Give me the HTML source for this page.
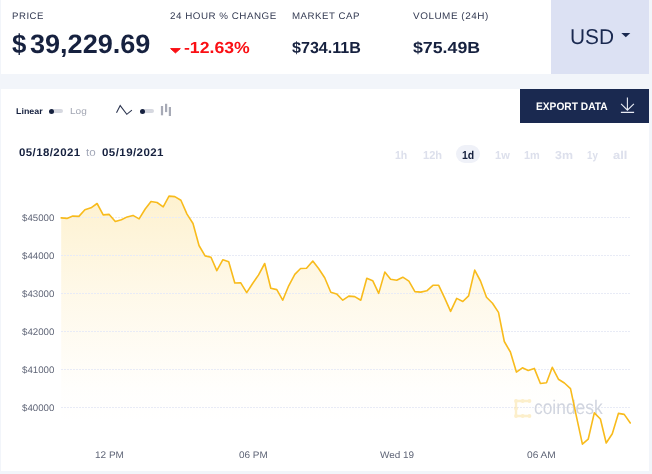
<!DOCTYPE html>
<html><head><meta charset="utf-8"><title>Bitcoin Price</title>
<style>
html,body{margin:0;padding:0;}
body{width:652px;height:474px;background:#f2f5fa;position:relative;overflow:hidden;font-family:"Liberation Sans",sans-serif;color:#16213f;}
.t{position:absolute;white-space:nowrap;line-height:1;transform-origin:0 0;}
.b{position:absolute;}
</style></head><body>
<div class="b" style="left:1px;top:0;width:648.4px;height:73.6px;background:#fff;"></div>
<div class="b" style="left:1px;top:88.5px;width:648.4px;height:382.4px;background:#fff;"></div>
<div class="b" style="left:551.2px;top:0;width:97.8px;height:73.6px;background:#dce1f3;"></div>
<div class="b" style="left:520.1px;top:89.1px;width:128.8px;height:33.5px;background:#1a2950;"></div>
<div class="b" style="left:51px;top:109.4px;width:12px;height:3.6px;border-radius:2px;background:#d6d8e0;"></div>
<div class="b" style="left:49px;top:108.7px;width:5.2px;height:5.2px;border-radius:50%;background:#16213f;"></div>
<div class="b" style="left:141.5px;top:109.4px;width:12.2px;height:3.6px;border-radius:2px;background:#d6d8e0;"></div>
<div class="b" style="left:139.8px;top:108.7px;width:5.2px;height:5.2px;border-radius:50%;background:#16213f;"></div>
<div class="b" style="left:456.2px;top:145.4px;width:24px;height:17.5px;border-radius:9px;background:#eff1f8;"></div>
<svg class="b" style="left:0;top:0;" width="652" height="474" viewBox="0 0 652 474">
<defs><linearGradient id="g" x1="0" y1="192" x2="0" y2="425" gradientUnits="userSpaceOnUse"><stop offset="0" stop-color="#f9bf1f" stop-opacity=".215"/><stop offset=".47" stop-color="#f9bf1f" stop-opacity=".09"/><stop offset=".85" stop-color="#f9bf1f" stop-opacity=".012"/><stop offset="1" stop-color="#f9bf1f" stop-opacity="0"/></linearGradient></defs>
<path d="M170.6 48.6 L180.3 48.6 L175.45 52.9 Z" fill="#fa0f14" stroke="#fa0f14" stroke-width="1" stroke-linejoin="round"/>
<path d="M621.3 33 L630.3 33 L625.8 37.3 Z" fill="#1a2950"/>
<path d="M627.4 97.6 V110.2 M621.1 103.9 L627.4 110.2 L633.9 103.9 M620.9 112.4 H634.1" fill="none" stroke="#e9ecf5" stroke-width="1.1"/>
<path d="M116.5 112.8 L120.2 105.6 L126.8 114.3 L131.9 110.1" fill="none" stroke="#2d3651" stroke-width="1.1"/>
<g fill="#a7aab6"><rect x="160.9" y="106" width="2.2" height="9.3"/><rect x="165" y="103.8" width="2.2" height="8.3"/><rect x="168.8" y="107" width="2.2" height="9"/></g>
<path d="M61.2 217.9 L67.0 218.4 L72.8 216.1 L78.9 216.4 L84.9 209.8 L91.0 207.8 L97.1 203.5 L103.2 214.9 L109.2 214.4 L115.3 221.5 L121.4 219.7 L127.2 216.9 L133.0 215.4 L139.1 218.9 L145.2 209.0 L151.0 201.5 L157.1 202.5 L163.2 206.8 L169.0 196.1 L174.8 196.6 L180.9 200.2 L187.0 214.1 L193.0 223.5 L199.0 245.5 L205.1 255.9 L211.0 257.2 L216.8 270.6 L222.9 259.7 L228.7 261.7 L234.8 283.0 L240.6 282.7 L246.7 292.6 L252.8 283.2 L258.6 274.9 L264.7 263.5 L270.8 288.3 L276.8 289.6 L282.7 300.2 L288.7 285.8 L294.8 274.4 L300.6 268.5 L306.5 268.3 L312.8 261.0 L318.6 268.5 L324.7 277.7 L330.8 292.3 L336.6 293.9 L342.8 300.2 L348.8 296.1 L354.7 296.6 L360.8 300.2 L366.8 278.2 L372.7 280.7 L378.7 293.4 L384.8 272.1 L390.6 279.2 L396.7 280.2 L402.8 277.2 L408.9 281.2 L414.9 291.6 L420.8 292.1 L426.8 290.8 L432.9 285.3 L438.7 285.3 L444.6 297.9 L450.6 311.3 L456.7 298.4 L462.8 301.5 L468.6 295.9 L474.7 270.1 L480.5 281.0 L486.5 297.2 L492.5 303.2 L498.5 312.4 L504.3 341.5 L510.4 352.0 L516.4 372.1 L522.4 367.8 L528.2 370.4 L534.3 368.4 L540.4 383.5 L546.5 382.8 L552.3 367.3 L558.4 379.2 L564.4 383.0 L570.5 388.6 L576.3 415.9 L582.4 444.1 L588.2 439.2 L594.3 412.9 L600.4 419.0 L606.2 443.0 L612.3 433.7 L618.4 413.4 L624.2 414.4 L630.3 423.0 L630.3 446 L61.2 446 Z" fill="url(#g)"/>
<g stroke="#e8ebf6" stroke-width="1" stroke-dasharray="2 1"><line x1="61" x2="630.5" y1="217.5" y2="217.5"/><line x1="61" x2="630.5" y1="255.5" y2="255.5"/><line x1="61" x2="630.5" y1="293.5" y2="293.5"/><line x1="61" x2="630.5" y1="331.5" y2="331.5"/><line x1="61" x2="630.5" y1="369.5" y2="369.5"/><line x1="61" x2="630.5" y1="407.5" y2="407.5"/></g>
<g opacity=".55">
<path d="M529.5 401 H516 V416 H529.5" fill="none" stroke="#fbe3a3" stroke-width="2.4" stroke-linecap="round"/>
<g fill="#fbe3a3"><circle cx="516" cy="401" r="1.9"/><circle cx="522.7" cy="401" r="1.9"/><circle cx="529.5" cy="401" r="1.9"/><circle cx="516" cy="408.5" r="1.9"/><circle cx="516" cy="416" r="1.9"/><circle cx="522.7" cy="416" r="1.9"/><circle cx="529.5" cy="416" r="1.9"/></g>
</g>
</svg>
<div id="tx" style="position:absolute;left:0;top:0;width:652px;height:474px;will-change:transform;">
<div class="t" id="l1" style="left:11.55px;top:10.70px;font-size:9.5px;font-weight:normal;color:#333a52;letter-spacing:0.5px;transform:rotate(.03deg) scaleX(1.0135);">PRICE</div>
<div class="t" id="l2" style="left:169.90px;top:10.70px;font-size:9.5px;font-weight:normal;color:#333a52;letter-spacing:0.5px;transform:rotate(.03deg) scaleX(1.0314);">24 HOUR % CHANGE</div>
<div class="t" id="l3" style="left:291.55px;top:10.70px;font-size:9.5px;font-weight:normal;color:#333a52;letter-spacing:0.5px;transform:rotate(.03deg) scaleX(1.0216);">MARKET CAP</div>
<div class="t" id="l4" style="left:412.85px;top:10.70px;font-size:9.5px;font-weight:normal;color:#333a52;letter-spacing:0.5px;transform:rotate(.03deg) scaleX(1.0448);">VOLUME (24H)</div>
<div class="t" id="pd" style="left:12.40px;top:30.75px;font-size:26.6px;font-weight:bold;color:#16213f;letter-spacing:0px;transform:rotate(.03deg) scaleX(0.9700);">$</div>
<div class="t" id="pv" style="left:30.15px;top:30.75px;font-size:26.6px;font-weight:bold;color:#16213f;letter-spacing:0px;transform:rotate(.03deg) scaleX(1.0180);">39,229.69</div>
<div class="t" id="chg" style="left:184.15px;top:39.55px;font-size:16px;font-weight:bold;color:#fa0f14;letter-spacing:0px;transform:rotate(.03deg) scaleX(1.1026);">-12.63%</div>
<div class="t" id="mcap" style="left:292.05px;top:39.55px;font-size:16px;font-weight:bold;color:#16213f;letter-spacing:0px;transform:rotate(.03deg) scaleX(1.0059);">$734.11B</div>
<div class="t" id="vol" style="left:413.05px;top:39.55px;font-size:16px;font-weight:bold;color:#16213f;letter-spacing:0px;transform:rotate(.03deg) scaleX(1.1092);">$75.49B</div>
<div class="t" id="usd" style="left:569.55px;top:26.73px;font-size:21.4px;font-weight:normal;color:#1a2950;letter-spacing:0px;transform:rotate(.03deg) scaleX(0.9742);">USD</div>
<div class="t" id="exp" style="left:535.85px;top:100.72px;font-size:10.9px;font-weight:bold;color:#fff;letter-spacing:0px;transform:rotate(.03deg) scaleX(0.9364);">EXPORT DATA</div>
<div class="t" id="lin" style="left:15.70px;top:106.60px;font-size:8.4px;font-weight:bold;color:#16213f;letter-spacing:0px;transform:rotate(.03deg) scaleX(1.0612);">Linear</div>
<div class="t" id="log" style="left:70.15px;top:107.13px;font-size:8.8px;font-weight:normal;color:#a2a6b3;letter-spacing:0px;transform:rotate(.03deg) scaleX(1.1436);">Log</div>
<div class="t" id="d1" style="left:18.70px;top:147.00px;font-size:11px;font-weight:bold;color:#16213f;letter-spacing:0.4px;transform:rotate(.03deg) scaleX(1.0416);">05/18/2021</div>
<div class="t" id="to" style="left:86.45px;top:147.00px;font-size:11px;font-weight:normal;color:#a3a8b8;letter-spacing:0px;transform:rotate(.03deg) scaleX(1.0532);">to</div>
<div class="t" id="d2" style="left:101.50px;top:147.00px;font-size:11px;font-weight:bold;color:#16213f;letter-spacing:0.4px;transform:rotate(.03deg) scaleX(1.0492);">05/19/2021</div>
<div class="t" id="r1" style="left:395.35px;top:149.70px;font-size:11.5px;font-weight:bold;color:#dde0ec;letter-spacing:0px;transform:rotate(.03deg) scaleX(0.9167);">1h</div>
<div class="t" id="r2" style="left:422.95px;top:149.70px;font-size:11.5px;font-weight:bold;color:#dde0ec;letter-spacing:0px;transform:rotate(.03deg) scaleX(0.9589);">12h</div>
<div class="t" id="r3" style="left:461.95px;top:149.70px;font-size:11.5px;font-weight:bold;color:#16213f;letter-spacing:0px;transform:rotate(.03deg) scaleX(0.9126);">1d</div>
<div class="t" id="r4" style="left:494.55px;top:149.70px;font-size:11.5px;font-weight:bold;color:#dde0ec;letter-spacing:0px;transform:rotate(.03deg) scaleX(0.9622);">1w</div>
<div class="t" id="r5" style="left:523.75px;top:149.70px;font-size:11.5px;font-weight:bold;color:#dde0ec;letter-spacing:0px;transform:rotate(.03deg) scaleX(0.9511);">1m</div>
<div class="t" id="r6" style="left:554.85px;top:149.70px;font-size:11.5px;font-weight:bold;color:#dde0ec;letter-spacing:0px;transform:rotate(.03deg) scaleX(1.0763);">3m</div>
<div class="t" id="r7" style="left:587.10px;top:149.70px;font-size:11.5px;font-weight:bold;color:#dde0ec;letter-spacing:0px;transform:rotate(.03deg) scaleX(0.8461);">1y</div>
<div class="t" id="r8" style="left:612.70px;top:149.70px;font-size:11.5px;font-weight:bold;color:#dde0ec;letter-spacing:0px;transform:rotate(.03deg) scaleX(1.1281);">all</div>
<div class="t" id="y0" style="left:21.65px;top:212.78px;font-size:9.5px;font-weight:normal;color:#5f6577;letter-spacing:0px;transform:rotate(.03deg) scaleX(1.0194);">$45000</div>
<div class="t" id="y1" style="left:21.65px;top:250.78px;font-size:9.5px;font-weight:normal;color:#5f6577;letter-spacing:0px;transform:rotate(.03deg) scaleX(1.0194);">$44000</div>
<div class="t" id="y2" style="left:21.65px;top:288.77px;font-size:9.5px;font-weight:normal;color:#5f6577;letter-spacing:0px;transform:rotate(.03deg) scaleX(1.0194);">$43000</div>
<div class="t" id="y3" style="left:21.65px;top:326.77px;font-size:9.5px;font-weight:normal;color:#5f6577;letter-spacing:0px;transform:rotate(.03deg) scaleX(1.0194);">$42000</div>
<div class="t" id="y4" style="left:21.65px;top:364.77px;font-size:9.5px;font-weight:normal;color:#5f6577;letter-spacing:0px;transform:rotate(.03deg) scaleX(1.0194);">$41000</div>
<div class="t" id="y5" style="left:21.65px;top:402.77px;font-size:9.5px;font-weight:normal;color:#5f6577;letter-spacing:0px;transform:rotate(.03deg) scaleX(1.0194);">$40000</div>
<div class="t" id="x0" style="left:95.25px;top:449.60px;font-size:9.5px;font-weight:normal;color:#5f6577;letter-spacing:0px;transform:rotate(.03deg) scaleX(1.0539);">12 PM</div>
<div class="t" id="x1" style="left:239.00px;top:449.60px;font-size:9.5px;font-weight:normal;color:#5f6577;letter-spacing:0px;transform:rotate(.03deg) scaleX(1.0495);">06 PM</div>
<div class="t" id="x2" style="left:379.80px;top:449.60px;font-size:9.5px;font-weight:normal;color:#5f6577;letter-spacing:0px;transform:rotate(.03deg) scaleX(1.0481);">Wed 19</div>
<div class="t" id="x3" style="left:526.50px;top:449.60px;font-size:9.5px;font-weight:normal;color:#5f6577;letter-spacing:0px;transform:rotate(.03deg) scaleX(1.0692);">06 AM</div>
<div class="t" id="wm" style="left:534.35px;top:397.90px;font-size:19.8px;font-weight:normal;color:#d1d5df;letter-spacing:0px;transform:rotate(.03deg) scaleX(0.8790);">coindesk</div>
</div>
<svg class="b" style="left:0;top:0;" width="652" height="474" viewBox="0 0 652 474">
<path d="M61.2 217.9 L67.0 218.4 L72.8 216.1 L78.9 216.4 L84.9 209.8 L91.0 207.8 L97.1 203.5 L103.2 214.9 L109.2 214.4 L115.3 221.5 L121.4 219.7 L127.2 216.9 L133.0 215.4 L139.1 218.9 L145.2 209.0 L151.0 201.5 L157.1 202.5 L163.2 206.8 L169.0 196.1 L174.8 196.6 L180.9 200.2 L187.0 214.1 L193.0 223.5 L199.0 245.5 L205.1 255.9 L211.0 257.2 L216.8 270.6 L222.9 259.7 L228.7 261.7 L234.8 283.0 L240.6 282.7 L246.7 292.6 L252.8 283.2 L258.6 274.9 L264.7 263.5 L270.8 288.3 L276.8 289.6 L282.7 300.2 L288.7 285.8 L294.8 274.4 L300.6 268.5 L306.5 268.3 L312.8 261.0 L318.6 268.5 L324.7 277.7 L330.8 292.3 L336.6 293.9 L342.8 300.2 L348.8 296.1 L354.7 296.6 L360.8 300.2 L366.8 278.2 L372.7 280.7 L378.7 293.4 L384.8 272.1 L390.6 279.2 L396.7 280.2 L402.8 277.2 L408.9 281.2 L414.9 291.6 L420.8 292.1 L426.8 290.8 L432.9 285.3 L438.7 285.3 L444.6 297.9 L450.6 311.3 L456.7 298.4 L462.8 301.5 L468.6 295.9 L474.7 270.1 L480.5 281.0 L486.5 297.2 L492.5 303.2 L498.5 312.4 L504.3 341.5 L510.4 352.0 L516.4 372.1 L522.4 367.8 L528.2 370.4 L534.3 368.4 L540.4 383.5 L546.5 382.8 L552.3 367.3 L558.4 379.2 L564.4 383.0 L570.5 388.6 L576.3 415.9 L582.4 444.1 L588.2 439.2 L594.3 412.9 L600.4 419.0 L606.2 443.0 L612.3 433.7 L618.4 413.4 L624.2 414.4 L630.3 423.0" fill="none" stroke="#f8bb1c" stroke-width="1.6" stroke-linejoin="round" stroke-linecap="round"/>
</svg>
</body></html>
